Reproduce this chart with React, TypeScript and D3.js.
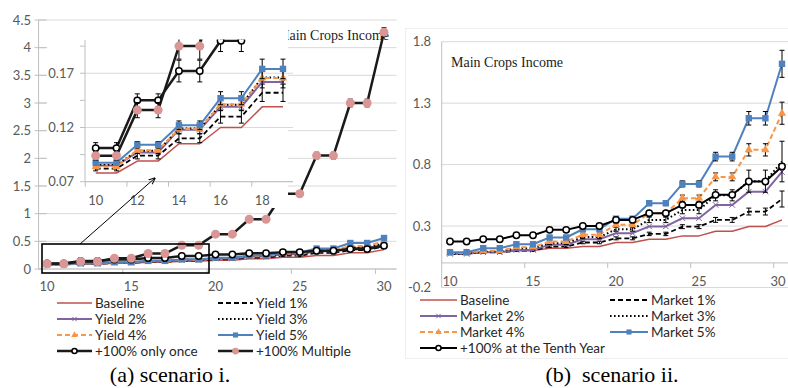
import React from 'react';
import * as d3 from 'd3';

// categories (years)
const years = [10, 11, 12, 13, 14, 15, 16, 17, 18, 19, 20, 21, 22, 23, 24, 25, 26, 27, 28, 29, 30];

// (a) scenario i.
const baselineA = [0.078, 0.078, 0.089, 0.089, 0.105, 0.105, 0.120, 0.120, 0.139, 0.139, 0.160, 0.160, 0.185, 0.185, 0.212, 0.212, 0.245, 0.245, 0.295, 0.295, 0.350];
const yield1 = [0.082, 0.082, 0.094, 0.094, 0.110, 0.110, 0.130, 0.130, 0.152, 0.152, 0.175, 0.175, 0.205, 0.205, 0.240, 0.240, 0.290, 0.290, 0.340, 0.340, 0.410];
const yield2 = [0.085, 0.085, 0.097, 0.097, 0.118, 0.118, 0.139, 0.139, 0.162, 0.162, 0.190, 0.190, 0.225, 0.225, 0.265, 0.265, 0.320, 0.320, 0.380, 0.380, 0.440];
const yield3 = [0.0855, 0.0855, 0.0985, 0.0985, 0.119, 0.119, 0.141, 0.141, 0.166, 0.166, 0.195, 0.195, 0.230, 0.230, 0.275, 0.275, 0.330, 0.330, 0.395, 0.395, 0.460];
const yield4 = [0.084, 0.084, 0.099, 0.099, 0.1185, 0.1185, 0.1415, 0.1415, 0.1655, 0.1655, 0.197, 0.197, 0.235, 0.235, 0.282, 0.282, 0.340, 0.340, 0.415, 0.415, 0.500];
const yield5 = [0.0875, 0.0875, 0.104, 0.104, 0.122, 0.122, 0.147, 0.147, 0.174, 0.174, 0.205, 0.205, 0.245, 0.245, 0.300, 0.300, 0.370, 0.370, 0.470, 0.470, 0.560];
const onceA = [0.101, 0.101, 0.145, 0.145, 0.172, 0.172, 0.200, 0.200, 0.235, 0.235, 0.262, 0.262, 0.285, 0.285, 0.305, 0.305, 0.330, 0.330, 0.360, 0.360, 0.420];
const multipleA = [0.094, 0.094, 0.136, 0.136, 0.195, 0.195, 0.28, 0.28, 0.43, 0.43, 0.63, 0.63, 0.9, 0.9, 1.36, 1.36, 2.05, 2.05, 3.0, 3.0, 4.28];

const errYield1 = [0.002, 0.002, 0.003, 0.003, 0.004, 0.004, 0.006, 0.006, 0.008, 0.008, 0.01, 0.01, 0.012, 0.012, 0.014, 0.014, 0.016, 0.016, 0.02, 0.02, 0.024];
const errYield4 = [0.002, 0.002, 0.003, 0.003, 0.004, 0.004, 0.006, 0.006, 0.009, 0.009, 0.01, 0.01, 0.012, 0.012, 0.015, 0.015, 0.018, 0.018, 0.022, 0.022, 0.026];
const errYield5 = [0.002, 0.002, 0.003, 0.003, 0.004, 0.004, 0.006, 0.006, 0.009, 0.009, 0.011, 0.011, 0.013, 0.013, 0.016, 0.016, 0.02, 0.02, 0.024, 0.024, 0.03];
const errOnceA = [0.005, 0.005, 0.006, 0.006, 0.01, 0.01, 0.01, 0.01, 0.012, 0.012, 0.012, 0.012, 0.014, 0.014, 0.015, 0.015, 0.016, 0.016, 0.018, 0.018, 0.02];
const errMultipleA = [0.004, 0.004, 0.007, 0.007, 0.012, 0.012, 0.015, 0.015, 0.02, 0.02, 0.025, 0.025, 0.03, 0.03, 0.05, 0.05, 0.06, 0.06, 0.07, 0.07, 0.08];

// (b) scenario ii.
const baselineB = [0.074, 0.074, 0.087, 0.087, 0.100, 0.100, 0.120, 0.120, 0.133, 0.133, 0.166, 0.166, 0.193, 0.193, 0.220, 0.220, 0.258, 0.258, 0.296, 0.296, 0.350];
const market1 = [0.074, 0.074, 0.085, 0.085, 0.100, 0.100, 0.133, 0.133, 0.166, 0.166, 0.200, 0.200, 0.236, 0.236, 0.295, 0.295, 0.350, 0.350, 0.418, 0.418, 0.520];
const market2 = [0.074, 0.074, 0.087, 0.087, 0.106, 0.106, 0.147, 0.147, 0.193, 0.193, 0.242, 0.242, 0.297, 0.297, 0.364, 0.364, 0.472, 0.472, 0.580, 0.580, 0.740];
const market3 = [0.075, 0.075, 0.093, 0.093, 0.120, 0.120, 0.160, 0.160, 0.210, 0.210, 0.274, 0.274, 0.350, 0.350, 0.430, 0.430, 0.550, 0.550, 0.665, 0.665, 0.825];
const market4 = [0.080, 0.080, 0.100, 0.100, 0.128, 0.128, 0.174, 0.174, 0.230, 0.230, 0.310, 0.310, 0.404, 0.404, 0.527, 0.527, 0.700, 0.700, 0.920, 0.920, 1.218];
const market5 = [0.087, 0.087, 0.120, 0.120, 0.152, 0.152, 0.207, 0.207, 0.274, 0.274, 0.360, 0.360, 0.486, 0.486, 0.643, 0.643, 0.865, 0.865, 1.177, 1.177, 1.620];
const tenthB = [0.174, 0.174, 0.193, 0.193, 0.225, 0.225, 0.269, 0.269, 0.300, 0.300, 0.350, 0.350, 0.405, 0.405, 0.472, 0.472, 0.554, 0.554, 0.662, 0.662, 0.784];

const errMarket1 = [0.004, 0.004, 0.005, 0.005, 0.006, 0.006, 0.008, 0.008, 0.01, 0.01, 0.012, 0.012, 0.014, 0.014, 0.016, 0.016, 0.02, 0.02, 0.028, 0.028, 0.065];
const errMarket3 = [0.004, 0.004, 0.005, 0.005, 0.007, 0.007, 0.01, 0.01, 0.013, 0.013, 0.016, 0.016, 0.022, 0.022, 0.03, 0.03, 0.045, 0.045, 0.09, 0.09, 0.165];
const errMarket4 = [0.004, 0.004, 0.005, 0.005, 0.007, 0.007, 0.01, 0.01, 0.012, 0.012, 0.015, 0.015, 0.02, 0.02, 0.025, 0.025, 0.032, 0.032, 0.05, 0.05, 0.09];
const errMarket5 = [0.004, 0.004, 0.005, 0.005, 0.007, 0.007, 0.01, 0.01, 0.012, 0.012, 0.015, 0.015, 0.02, 0.02, 0.025, 0.025, 0.035, 0.035, 0.055, 0.055, 0.11];
const errTenthB = [0.004, 0.004, 0.005, 0.005, 0.006, 0.006, 0.007, 0.007, 0.008, 0.008, 0.01, 0.01, 0.012, 0.012, 0.014, 0.014, 0.016, 0.016, 0.02, 0.02, 0.024];

// tick labels
const leftYTicks = [0, 0.5, 1, 1.5, 2, 2.5, 3, 3.5, 4, 4.5];
const rightYTicks = [-0.2, 0.3, 0.8, 1.3, 1.8];
const xLabels = [10, 15, 20, 25, 30];
const xTickMarks = [14.5, 19.5, 24.5, 29.5];
const insetYLabels = [0.07, 0.12, 0.17];
const insetYTicks = [0.07, 0.095, 0.12, 0.145, 0.17, 0.195];
const insetXLabels = [10, 12, 14, 16, 18];
const insetXTicks = [9.5, 11.5, 13.5, 15.5, 17.5];

type Sty = { color: string; width: number; dash?: string; marker?: string };
type Ser = { name: string; values: number[]; err?: number[]; st: Sty };

const ST: Record<string, Sty> = {
  base: { color: '#C0504D', width: 1.5 },
  dash: { color: '#000', width: 1.8, dash: '5,3' },
  purple: { color: '#8064A2', width: 2, marker: 'x' },
  dot: { color: '#000', width: 2, dash: '1.6,2.4' },
  orange: { color: '#F79646', width: 2, dash: '5,3', marker: 'tri' },
  blue: { color: '#4F81BD', width: 2, marker: 'sq' },
  once: { color: '#1a1a1a', width: 2.5, marker: 'open' },
  multi: { color: '#1a1a1a', width: 2.5, marker: 'pink' },
  tenth: { color: '#000', width: 2, marker: 'open' },
};

const seriesA: Ser[] = [
  { name: 'Baseline', values: baselineA, st: ST.base },
  { name: 'Yield 1%', values: yield1, err: errYield1, st: ST.dash },
  { name: 'Yield 2%', values: yield2, st: ST.purple },
  { name: 'Yield 3%', values: yield3, st: ST.dot },
  { name: 'Yield 4%', values: yield4, err: errYield4, st: ST.orange },
  { name: 'Yield 5%', values: yield5, err: errYield5, st: ST.blue },
  { name: '+100% only once', values: onceA, err: errOnceA, st: ST.once },
  { name: '+100% Multiple', values: multipleA, err: errMultipleA, st: ST.multi },
];

const seriesB: Ser[] = [
  { name: 'Baseline', values: baselineB, st: ST.base },
  { name: 'Market 1%', values: market1, err: errMarket1, st: ST.dash },
  { name: 'Market 2%', values: market2, st: ST.purple },
  { name: 'Market 3%', values: market3, err: errMarket3, st: ST.dot },
  { name: 'Market 4%', values: market4, err: errMarket4, st: ST.orange },
  { name: 'Market 5%', values: market5, err: errMarket5, st: ST.blue },
  { name: '+100% at the Tenth Year', values: tenthB, err: errTenthB, st: ST.tenth },
];

const tickFont = { fontFamily: 'Lato, "Liberation Sans", sans-serif', fontSize: 13, fill: '#595959' };
const serif = '"Liberation Serif", "Times New Roman", serif';
const grid = '#d9d9d9';

function Marker({ kind, cx, cy, s = 1 }: { kind?: string; cx: number; cy: number; s?: number }) {
  if (kind === 'sq') return <rect x={cx - 3.2 * s} y={cy - 3.2 * s} width={6.4 * s} height={6.4 * s} fill="#4F81BD" />;
  if (kind === 'tri') return <path transform={`translate(${cx},${cy})`} d={d3.symbol(d3.symbolTriangle, 30 * s * s)() as string} fill="#F79646" />;
  if (kind === 'x') return <path transform={`translate(${cx},${cy})`} d={d3.symbol(d3.symbolX, 22 * s * s)() as string} fill="none" stroke="#8064A2" strokeWidth={1} />;
  if (kind === 'open') return <circle cx={cx} cy={cy} r={3.2 * s} fill="#fff" stroke="#000" strokeWidth={1.5} />;
  if (kind === 'pink') return <circle cx={cx} cy={cy} r={4.5 * s} fill="#D99694" />;
  return null;
}

function SeriesMarks({ ser, x, y, count }: { ser: Ser; x: (v: number) => number; y: (v: number) => number; count: number }) {
  const idx = years.slice(0, count).map((_, i) => i);
  const line = d3.line<number>().x(i => x(years[i])).y(i => y(ser.values[i]));
  const st = ser.st;
  return (
    <g>
      <path d={line(idx) as string} fill="none" stroke={st.color} strokeWidth={st.width}
        strokeDasharray={st.dash} strokeLinejoin="round" />
      {ser.err && idx.map(i => {
        const cx = x(years[i]);
        const e = ser.err![i];
        const y1 = y(ser.values[i] + e), y2 = y(ser.values[i] - e);
        return (
          <g key={'e' + i} stroke="#000" strokeWidth={1}>
            <line x1={cx} x2={cx} y1={y1} y2={y2} />
            <line x1={cx - 2.5} x2={cx + 2.5} y1={y1} y2={y1} />
            <line x1={cx - 2.5} x2={cx + 2.5} y1={y2} y2={y2} />
          </g>
        );
      })}
      {st.marker && idx.map(i => <Marker key={'m' + i} kind={st.marker} cx={x(years[i])} cy={y(ser.values[i])} />)}
    </g>
  );
}

function Legend({ items, cols, rows }: { items: Ser[]; cols: number[][]; rows: number[] }) {
  return (
    <g>
      {items.map((s, i) => {
        const [x0, x1] = cols[i % 2];
        const yy = rows[Math.floor(i / 2)];
        return (
          <g key={s.name}>
            <line x1={x0} x2={x1} y1={yy} y2={yy} stroke={s.st.color} strokeWidth={s.st.width}
              strokeDasharray={s.st.dash} />
            <Marker kind={s.st.marker} cx={(x0 + x1) / 2} cy={yy} s={s.st.marker === 'pink' ? 0.75 : 0.8} />
            <text x={x1 + 3} y={yy} dy="0.35em" fontFamily='Lato, "Liberation Sans", sans-serif' fontSize={13.5} fill="#262626">{s.name}</text>
          </g>
        );
      })}
    </g>
  );
}

function PanelA() {
  const x = d3.scaleLinear().domain([10, 30]).range([47, 384]);
  const y = d3.scaleLinear().domain([0, 4.5]).range([269, 20]);
  const xi = d3.scaleLinear().domain([10, 19]).range([95.7, 283]);
  const yi = d3.scaleLinear().domain([0.07, 0.2]).range([181.7, 40.7]);
  const left = x(9.5), right = x(30.75);
  return (
    <g>
      {leftYTicks.map(t => (
        <g key={t}>
          <line x1={left} x2={right} y1={y(t)} y2={y(t)} stroke={grid} />
          <line x1={left - 4} x2={left + 8} y1={y(t)} y2={y(t)} stroke="#bfbfbf" />
          <text x={31} y={y(t)} dy="0.35em" textAnchor="end" {...tickFont}>{t}</text>
        </g>
      ))}
      <line x1={left} x2={left} y1={y(4.5)} y2={y(0)} stroke="#bfbfbf" />
      <line x1={left} x2={right} y1={y(0)} y2={y(0)} stroke="#bfbfbf" />
      {xTickMarks.map(t => <line key={t} x1={x(t)} x2={x(t)} y1={y(0)} y2={y(0) + 5} stroke="#bfbfbf" />)}
      {xLabels.map(t => <text key={t} x={x(t)} y={286} dy="0.35em" textAnchor="middle" {...tickFont}>{t}</text>)}
      <text x={277} y={35} dy="0.35em" fontFamily={serif} fontSize={14} fill="#222">Main Crops Income</text>
      {seriesA.map(s => <SeriesMarks key={s.name} ser={s} x={x} y={y} count={21} />)}

      {/* inset zoom of years 10-19 */}
      <rect x={47} y={28} width={241} height={180} fill="#fff" />
      {insetYLabels.map(t => (
        <g key={t}>
          <line x1={85} x2={293} y1={yi(t)} y2={yi(t)} stroke={grid} />
          <text x={74} y={yi(t)} dy="0.35em" textAnchor="end" {...tickFont}>{t}</text>
        </g>
      ))}
      {insetYTicks.map(t => <line key={t} x1={80} x2={85} y1={yi(t)} y2={yi(t)} stroke="#bfbfbf" />)}
      <line x1={85} x2={85} y1={40} y2={yi(0.07)} stroke="#bfbfbf" />
      <line x1={85} x2={293} y1={yi(0.07)} y2={yi(0.07)} stroke="#bfbfbf" />
      {insetXTicks.map(t => <line key={t} x1={xi(t)} x2={xi(t)} y1={yi(0.07)} y2={yi(0.07) + 5} stroke="#bfbfbf" />)}
      {insetXLabels.map(t => <text key={t} x={xi(t)} y={200} dy="0.35em" textAnchor="middle" {...tickFont}>{t}</text>)}
      <clipPath id="insetClip"><rect x={85} y={39.5} width={210} height={150} /></clipPath>
      <g clipPath="url(#insetClip)">
        {seriesA.map(s => <SeriesMarks key={s.name} ser={s} x={xi} y={yi} count={10} />)}
      </g>

      {/* zoom box and arrow */}
      <rect x={42} y={244} width={167} height={29} fill="none" stroke="#000" strokeWidth={1.6} />
      <defs>
        <marker id="arr" viewBox="0 0 10 10" refX="9" refY="5" markerWidth="7" markerHeight="7" orient="auto">
          <path d="M0,1 L10,5 L0,9" fill="none" stroke="#000" strokeWidth={1.4} />
        </marker>
      </defs>
      <line x1={80} y1={244} x2={155} y2={178} stroke="#000" strokeWidth={1} markerEnd="url(#arr)" />

      <Legend items={seriesA} cols={[[57, 92], [218, 253]]} rows={[303, 319, 335, 351]} />
      <text x={170} y={374} dy="0.35em" textAnchor="middle" fontFamily={serif} fontSize={22} fill="#000">(a) scenario i.</text>
    </g>
  );
}

function PanelB() {
  const x = d3.scaleLinear().domain([10, 30]).range([450, 782]);
  const y = d3.scaleLinear().domain([-0.2, 1.8]).range([287.5, 41.7]);
  const left = x(9.5), right = x(30.75);
  return (
    <g>
      <rect x={405.5} y={28.5} width={390} height={330} fill="none" stroke="#efefef" />
      {rightYTicks.map(t => (
        <g key={t}>
          <line x1={left} x2={right} y1={y(t)} y2={y(t)} stroke={grid} />
          <text x={431} y={y(t)} dy="0.35em" textAnchor="end" {...tickFont}>{t}</text>
        </g>
      ))}
      <line x1={left} x2={left} y1={y(1.8)} y2={y(-0.2)} stroke="#bfbfbf" />
      <line x1={left} x2={right} y1={y(0)} y2={y(0)} stroke="#bfbfbf" />
      {xTickMarks.map(t => <line key={t} x1={x(t)} x2={x(t)} y1={y(0)} y2={y(0) + 5} stroke="#bfbfbf" />)}
      {xLabels.map(t => <text key={t} x={Math.min(x(t), 778)} y={281} dy="0.35em" textAnchor="middle" {...tickFont}>{t}</text>)}
      <text x={451} y={62} dy="0.35em" fontFamily={serif} fontSize={14} fill="#222">Main Crops Income</text>
      {seriesB.map(s => <SeriesMarks key={s.name} ser={s} x={x} y={y} count={21} />)}
      <Legend items={seriesB} cols={[[420, 457], [610, 648]]} rows={[300, 316, 332, 348]} />
      <text x={612} y={374} dy="0.35em" textAnchor="middle" fontFamily={serif} fontSize={22} fill="#000"
        style={{ whiteSpace: 'pre' }}>(b)  scenario ii.</text>
    </g>
  );
}

export default function App() {
  return (
    <svg width={788} height={388} viewBox="0 0 788 388"
      style={{ position: 'absolute', left: 0, top: 0, background: '#fff', display: 'block' }}>
      <PanelA />
      <PanelB />
    </svg>
  );
}
